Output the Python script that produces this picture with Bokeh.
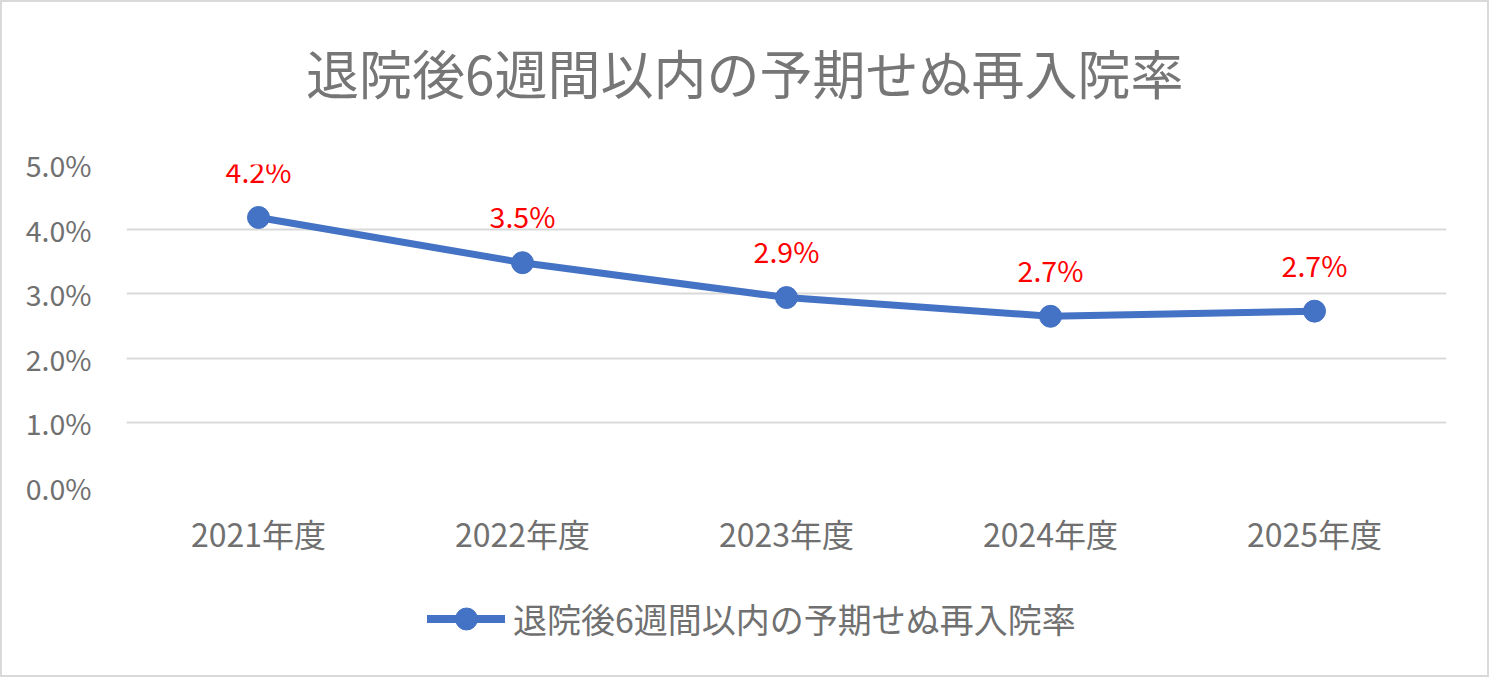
from bokeh.plotting import figure
from bokeh.layouts import column
from bokeh.models import Label, Legend, LegendItem, NumeralTickFormatter, FixedTicker
from bokeh.core.properties import value
from bokeh.embed import file_html
from bokeh.resources import INLINE

title_text = "退院後6週間以内の予期せぬ再入院率"
categories = ["2021年度", "2022年度", "2023年度", "2024年度", "2025年度"]
rates = [0.0418, 0.0348, 0.0294, 0.0265, 0.0273]
rate_labels = ["4.2%", "3.5%", "2.9%", "2.7%", "2.7%"]
y_ticks = [0.0, 0.01, 0.02, 0.03, 0.04, 0.05]

FONT = "Noto Sans CJK JP"
GRAY = "#707070"
BLUE = "#4472C4"

W = 1485
H_TITLE = 100
H_MAIN = 478
H_LEG = 95


def strip(height, x_range, y_range):
    f = figure(width=W, height=height, x_range=x_range, y_range=y_range,
               output_backend="svg", toolbar_location=None, title=None, min_border=0)
    f.axis.visible = False
    f.grid.visible = False
    f.outline_line_color = None
    f.background_fill_color = "white"
    f.border_fill_color = "white"
    return f


# title strip
tf = strip(H_TITLE, (0, 1), (0, 1))
tf.add_layout(Label(x=0.4684, y=0.31, text=title_text,
                    text_align="center", text_baseline="middle",
                    text_font=FONT, text_font_size="53px", text_color="#767676"))

# main chart
p = figure(width=W, height=H_MAIN, x_range=categories, y_range=(0, 0.05),
           output_backend="svg", toolbar_location=None, title=None,
           min_border_left=124, min_border_right=41,
           min_border_top=62, min_border_bottom=93)
p.outline_line_color = None
p.background_fill_color = "white"
p.border_fill_color = "white"

p.xgrid.grid_line_color = None
p.ygrid.grid_line_color = "#d9d9d9"
p.ygrid.grid_line_width = 2

p.yaxis.ticker = FixedTicker(ticks=y_ticks)
p.yaxis.formatter = NumeralTickFormatter(format="0.0%")
p.yaxis.axis_line_color = None
p.yaxis.major_tick_line_color = None
p.yaxis.minor_tick_line_color = None
p.yaxis.major_label_text_font = FONT
p.yaxis.major_label_text_font_size = "28.5px"
p.yaxis.major_label_text_color = GRAY
p.yaxis.major_label_standoff = 29

p.xaxis.axis_line_color = None
p.xaxis.major_tick_line_color = None
p.xaxis.major_label_text_font = FONT
p.xaxis.major_label_text_font_size = "32px"
p.xaxis.major_label_text_color = GRAY
p.xaxis.major_label_standoff = 16

line_r = p.line(x=categories, y=rates, line_color=BLUE, line_width=7,
                line_join="round", line_cap="round")
circ_r = p.scatter(x=categories, y=rates, size=22, fill_color=BLUE, line_color=BLUE)

p.text(x=categories, y=rates, text=rate_labels, y_offset=-47,
       text_align="center", text_baseline="middle", text_color="#FF0000",
       text_font_size="28.5px", text_font=value(FONT))

# legend strip below the chart (series drawn out of its visible range; only legend shows)
lf = strip(H_LEG, categories, (1, 2))
leg_line = lf.line(x=categories, y=rates, line_color=BLUE, line_width=8, line_cap="round")
leg_dot = lf.scatter(x=categories, y=rates, size=22, fill_color=BLUE, line_color=BLUE)
legend = Legend(items=[LegendItem(label=title_text, renderers=[leg_line, leg_dot])],
                location=(301, 29), orientation="horizontal",
                glyph_width=78, glyph_height=55, label_standoff=8,
                label_text_font=FONT, label_text_font_size="34px",
                label_text_color=GRAY, padding=0, margin=0,
                border_line_color=None, background_fill_alpha=0)
lf.add_layout(legend)

layout = column(tf, p, lf, spacing=0)
layout.styles = {"border": "2px solid #d9d9d9"}

open("out.html", "w").write(file_html(layout, INLINE))
